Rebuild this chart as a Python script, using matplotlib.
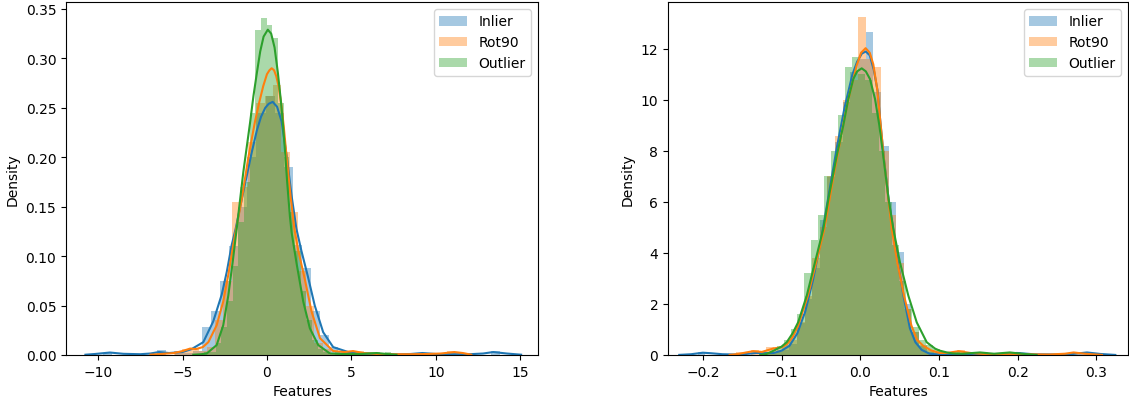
import numpy as np
import matplotlib
matplotlib.use("Agg")
import matplotlib.pyplot as plt

labels = ["Inlier", "Rot90", "Outlier"]
colors = ["#1f77b4", "#ff7f0e", "#2ca02c"]

# ---------------- Left panel ----------------
# histogram bins (start, width) and densities
L_blue_start, L_blue_w = -10.25, 0.535
L_blue_h = [0, 0.002, 0, 0, 0, 0, 0, 0.005, 0, 0.002, 0.002, 0.004, 0.028, 0.045, 0.075,
            0.11, 0.15, 0.2, 0.245, 0.262, 0.245, 0.19, 0.111, 0.088, 0.045, 0.02, 0.008,
            0.004, 0.002, 0.002, 0, 0, 0, 0, 0, 0, 0.002, 0, 0, 0, 0, 0, 0, 0, 0.004, 0]
L_orange_start, L_orange_w = -6.5, 0.49
L_orange_h = [0.002, 0, 0.004, 0.006, 0.006, 0.004, 0.008, 0.035, 0.075, 0.155, 0.17,
              0.215, 0.255, 0.262, 0.273, 0.205, 0.145, 0.085, 0.05, 0.012, 0.006, 0.002,
              0.002, 0.004, 0.004, 0.002, 0, 0, 0, 0, 0, 0, 0, 0.002, 0, 0.004, 0.002]
L_green_start, L_green_w = -3.705, 0.335
L_green_h = [0.003, 0.003, 0.012, 0.028, 0.055, 0.09, 0.135, 0.175, 0.245, 0.329, 0.341,
             0.334, 0.321, 0.255, 0.2, 0.145, 0.105, 0.065, 0.035, 0.015, 0.006, 0.003, 0,
             0.003, 0, 0, 0, 0, 0.003, 0.003, 0.003, 0, 0.003]

# KDE curves
L_blue_kx = [-10.75, -10.2, -9.3, -8.5, -7.5, -6.9, -6.4, -5.8, -5.0, -4.46, -3.77, -3.18,
             -2.68, -2.38, -2.09, -1.85, -1.4, -0.9, -0.6, -0.35, -0.1, 0.1, 0.34, 0.6,
             0.87, 1.17, 1.45, 1.74, 2.03, 2.43, 2.83, 3.33, 3.92, 4.9, 5.5, 6.5, 7.5, 8.5,
             9.2, 10.0, 11.0, 12.0, 12.8, 13.4, 14.2, 15.05]
L_blue_ky = [0.0003, 0.001, 0.0025, 0.0012, 0.0008, 0.0015, 0.003, 0.002, 0.003, 0.006,
             0.013, 0.034, 0.061, 0.084, 0.111, 0.128, 0.165, 0.205, 0.227, 0.241, 0.25,
             0.254, 0.256, 0.251, 0.236, 0.201, 0.162, 0.128, 0.106, 0.079, 0.05, 0.023,
             0.008, 0.0025, 0.0015, 0.001, 0.0008, 0.001, 0.002, 0.001, 0.0008, 0.0008,
             0.0015, 0.003, 0.0015, 0.0003]
L_orange_kx = [-6.9, -6.3, -5.5, -5.0, -4.55, -4.2, -3.8, -3.47, -2.98, -2.59, -2.29, -2.0,
               -1.85, -1.5, -1.1, -0.71, -0.45, -0.22, 0.0, 0.15, 0.28, 0.42, 0.55, 0.7,
               0.87, 1.0, 1.17, 1.4, 1.62, 1.85, 2.25, 2.64, 3.14, 3.92, 4.6, 5.1, 5.7, 6.5,
               7.5, 8.5, 9.5, 10.3, 11.1, 11.6, 12.1]
L_orange_ky = [0.0003, 0.001, 0.002, 0.004, 0.0065, 0.006, 0.008, 0.013, 0.03, 0.054,
               0.081, 0.111, 0.125, 0.157, 0.2, 0.236, 0.256, 0.272, 0.284, 0.288, 0.29,
               0.288, 0.282, 0.271, 0.251, 0.23, 0.199, 0.16, 0.128, 0.106, 0.076, 0.044,
               0.017, 0.004, 0.003, 0.004, 0.002, 0.001, 0.0008, 0.0008, 0.001, 0.0015,
               0.003, 0.002, 0.0003]
L_green_kx = [-4.36, -3.9, -3.57, -2.98, -2.59, -2.29, -2.03, -1.79, -1.4, -1.0, -0.8, -0.6,
              -0.4, -0.2, 0.05, 0.25, 0.45, 0.65, 0.83, 0.95, 1.07, 1.2, 1.36, 1.46, 1.76,
              2.15, 2.54, 3.04, 3.73, 4.5, 5.5, 6.5, 7.1, 7.67]
L_green_ky = [0.0003, 0.0008, 0.0015, 0.01, 0.03, 0.06, 0.094, 0.128, 0.185, 0.235, 0.262,
              0.285, 0.307, 0.322, 0.329, 0.325, 0.311, 0.285, 0.256, 0.233, 0.206, 0.174,
              0.14, 0.124, 0.092, 0.054, 0.027, 0.01, 0.0015, 0.001, 0.001, 0.002, 0.001,
              0.0003]

# ---------------- Right panel ----------------
R_blue_start, R_blue_w = -0.2163, 0.0097
R_blue_h = [0, 0.1, 0, 0, 0, 0, 0, 0, 0, 0.1, 0.1, 0.1, 0.2, 0.45, 1.25, 2.2, 3.4, 5.3,
            6.97, 8.34, 9.9, 11.1, 11.6, 12.68, 10.3, 8.2, 6.0, 4.05, 2.0, 0.9, 0.35, 0.1,
            0, 0, 0, 0, 0, 0, 0, 0, 0, 0, 0.1, 0, 0, 0, 0, 0, 0, 0, 0, 0.1, 0, 0]
R_orange_start, R_orange_w = -0.2163, 0.0097
R_orange_h = [0, 0, 0, 0, 0, 0, 0.1, 0, 0.2, 0, 0.3, 0.2, 0.4, 0.6, 1.3, 2.3, 3.8, 5.0,
              7.0, 8.6, 10.0, 10.8, 13.24, 11.6, 11.3, 8.0, 5.5, 3.6, 1.8, 0.9, 0.4, 0.2,
              0.1, 0.1, 0, 0.2, 0, 0, 0.1, 0, 0, 0, 0, 0, 0, 0, 0, 0, 0, 0, 0.1, 0, 0, 0]
R_green_start, R_green_w = -0.1229, 0.0086
R_green_h = [0.1, 0.12, 0.35, 0.6, 1.0, 1.6, 3.2, 4.5, 5.5, 7.0, 8.0, 9.4, 11.28, 11.7,
             11.0, 10.8, 9.5, 8.0, 6.0, 4.3, 2.9, 1.8, 1.1, 0.6, 0.4, 0.25, 0.1, 0.12, 0.1,
             0, 0, 0.12, 0, 0, 0, 0, 0.12, 0.1, 0]

R_blue_kx = [-0.230, -0.215, -0.200, -0.190, -0.175, -0.160, -0.145, -0.132, -0.120,
             -0.110, -0.100, -0.090, -0.080, -0.070, -0.060, -0.050, -0.040, -0.030,
             -0.020, -0.010, -0.004, 0.002, 0.007, 0.012, 0.017, 0.022, 0.025, 0.030,
             0.036, 0.042, 0.048, 0.055, 0.063, 0.070, 0.078, 0.088, 0.100, 0.120, 0.150,
             0.180, 0.199, 0.220, 0.250, 0.270, 0.288, 0.305, 0.324]
R_blue_ky = [0.005, 0.03, 0.09, 0.07, 0.03, 0.02, 0.04, 0.08, 0.07, 0.08, 0.17, 0.36, 0.85,
             1.7, 2.95, 4.5, 6.3, 8.1, 9.7, 11.0, 11.5, 11.82, 11.9, 11.75, 11.2, 10.35,
             9.3, 7.7, 6.1, 4.9, 3.6, 2.3, 1.05, 0.5, 0.2, 0.05, 0.02, 0.03, 0.03, 0.04,
             0.08, 0.03, 0.02, 0.04, 0.1, 0.04, 0.003]
R_orange_kx = [-0.166, -0.155, -0.145, -0.136, -0.125, -0.110, -0.100, -0.093, -0.086,
               -0.079, -0.0665, -0.056, -0.0456, -0.034, -0.020, -0.013, -0.0046, 0.001,
               0.0068, 0.012, 0.0165, 0.0216, 0.025, 0.030, 0.0356, 0.040, 0.047, 0.0555,
               0.065, 0.072, 0.080, 0.090, 0.101, 0.110, 0.125, 0.140, 0.160, 0.180, 0.200,
               0.240, 0.260, 0.271, 0.285, 0.307]
R_orange_ky = [0.003, 0.04, 0.1, 0.15, 0.12, 0.26, 0.3, 0.43, 0.7, 1.15, 2.33, 3.63, 4.94,
               7.0, 9.3, 10.3, 11.35, 11.85, 12.03, 11.85, 11.4, 10.4, 9.3, 7.7, 6.12, 4.94,
               3.63, 2.33, 1.15, 0.6, 0.36, 0.18, 0.08, 0.08, 0.15, 0.08, 0.03, 0.03, 0.03,
               0.02, 0.05, 0.1, 0.05, 0.003]
R_green_kx = [-0.127, -0.120, -0.110, -0.100, -0.0935, -0.086, -0.079, -0.068, -0.0576,
              -0.047, -0.040, -0.030, -0.0216, -0.0152, -0.0089, -0.004, 0.0018, 0.007,
              0.0123, 0.0187, 0.0242, 0.030, 0.036, 0.042, 0.0504, 0.061, 0.0717, 0.0844,
              0.095, 0.101, 0.110, 0.118, 0.130, 0.152, 0.170, 0.190, 0.205, 0.224]
R_green_ky = [0.003, 0.03, 0.17, 0.33, 0.5, 0.85, 1.28, 2.33, 3.63, 4.94, 6.2, 7.8, 9.0,
              10.04, 10.82, 11.12, 11.24, 11.12, 10.82, 10.04, 9.0, 7.6, 6.1, 4.94, 3.63,
              2.33, 1.28, 0.5, 0.25, 0.17, 0.1, 0.06, 0.05, 0.1, 0.05, 0.1, 0.05, 0.003]

L_xticks = [-10, -5, 0, 5, 10, 15]
L_yticks = [0.00, 0.05, 0.10, 0.15, 0.20, 0.25, 0.30, 0.35]
R_xticks = [-0.2, -0.1, 0.0, 0.1, 0.2, 0.3]
R_yticks = [0, 2, 4, 6, 8, 10, 12]

plt.rcParams['font.family'] = ['DejaVu Sans']
fig = plt.figure(figsize=(11.29, 4.02), dpi=100)
axL = fig.add_axes([66 / 1129, 1 - 356 / 402, 472 / 1129, 353 / 402])
axR = fig.add_axes([668 / 1129, 1 - 356 / 402, 460 / 1129, 353 / 402])


def draw(ax, hists, kdes):
    for (start, w, h), col, lab in zip(hists, colors, labels):
        lefts = start + w * np.arange(len(h))
        ax.bar(lefts, h, width=w, align='edge', color=col, alpha=0.4,
               linewidth=0, label=lab)
    for (kx, ky), col in zip(kdes, colors):
        ax.plot(kx, ky, color=col, lw=1.5)
    ax.set_xlabel("Features")
    ax.set_ylabel("Density")
    ax.legend(loc="upper right")


draw(axL,
     [(L_blue_start, L_blue_w, L_blue_h), (L_orange_start, L_orange_w, L_orange_h),
      (L_green_start, L_green_w, L_green_h)],
     [(L_blue_kx, L_blue_ky), (L_orange_kx, L_orange_ky), (L_green_kx, L_green_ky)])
axL.set_xlim(-11.9, 16.05)
axL.set_ylim(0, 0.357)
axL.set_xticks(L_xticks)
axL.set_yticks(L_yticks)
axL.yaxis.set_major_formatter(matplotlib.ticker.FormatStrFormatter('%.2f'))

draw(axR,
     [(R_blue_start, R_blue_w, R_blue_h), (R_orange_start, R_orange_w, R_orange_h),
      (R_green_start, R_green_w, R_green_h)],
     [(R_blue_kx, R_blue_ky), (R_orange_kx, R_orange_ky), (R_green_kx, R_green_ky)])
axR.set_xlim(-0.2443, 0.3401)
axR.set_ylim(0, 13.84)
axR.set_xticks(R_xticks)
axR.set_yticks(R_yticks)

fig.savefig("out.png", dpi=100)
